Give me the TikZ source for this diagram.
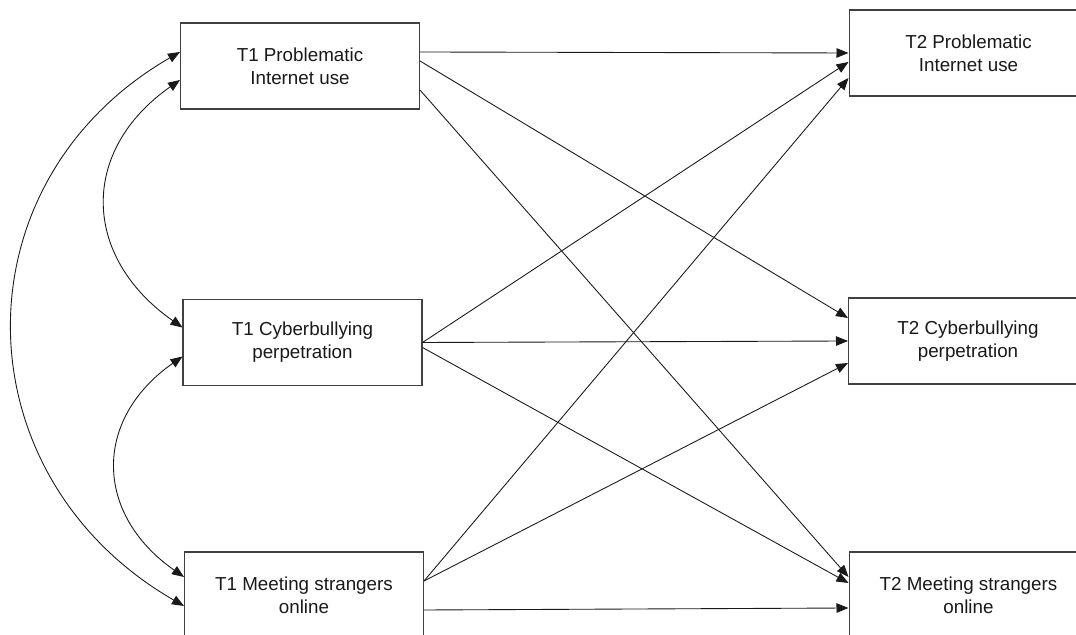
\documentclass[tikz,border=0pt]{standalone}
\usepackage{fontspec}
\setmainfont{Liberation Sans}
\usetikzlibrary{arrows.meta,calc}

\begin{document}
\begin{tikzpicture}[x=0.02cm,y=0.02cm,
  varbox/.style={draw=black!75, line width=0.6pt, rectangle, inner sep=0pt,
    minimum width=4.78cm, minimum height=1.72cm, align=center,
    text=black!90, font=\fontsize{10.7}{13}\selectfont},
  path/.style={line width=0.5pt, draw=black!90,
    -{Triangle[length=0.24cm,width=0.19cm]}},
  cov/.style={line width=0.5pt, draw=black!90,
    {Triangle[length=0.24cm,width=0.19cm]}-{Triangle[length=0.24cm,width=0.19cm]}}]

\useasboundingbox (0,0) rectangle (1076,635);
\clip (0,0) rectangle (1076,635);

% time 1
\node[varbox] (a) at (300,569) {T1 Problematic\\Internet use};
\node[varbox] (b) at (302.5,292.5) {T1 Cyberbullying\\perpetration};
\node[varbox] (c) at (304,40) {T1 Meeting strangers\\online};

% time 2
\node[varbox] (d) at (968.5,582) {T2 Problematic\\Internet use};
\node[varbox] (e) at (968,294) {T2 Cyberbullying\\perpetration};
\node[varbox] (f) at (968.5,40) {T2 Meeting strangers\\online};

% correlations at T1
\path[cov] ($(a.west)+(0,14)$) to[out=210,in=150,looseness=1.2] ($(c.west)+(0,-11)$);
\path[cov] ($(a.west)+(0,-14)$) to[out=215,in=145,looseness=1.27] ($(b.west)+(0,15)$);
\path[cov] ($(b.west)+(0,-14)$) to[out=215,in=145,looseness=1.27] ($(c.west)+(0,18)$);

% cross-lagged paths
\path[path] ($(a.east)+(0,14)$) -- (d.west);
\path[path] ($(a.east)+(0,5)$) -- ($(e.west)+(0,23)$);
\path[path] ($(a.east)+(0,-24)$) -- ($(f.west)+(0,18)$);

\path[path] (b.east) -- ($(d.west)+(0,-9)$);
\path[path] (b.east) -- (e.west);
\path[path] ($(b.east)+(0,-5)$) -- ($(f.west)+(0,12)$);

\path[path] ($(c.east)+(0,14)$) -- ($(d.west)+(0,-25)$);
\path[path] ($(c.east)+(0,14)$) -- ($(e.west)+(0,-22)$);
\path[path] ($(c.east)+(0,-15)$) -- ($(f.west)+(0,-13)$);
\end{tikzpicture}
\end{document}
